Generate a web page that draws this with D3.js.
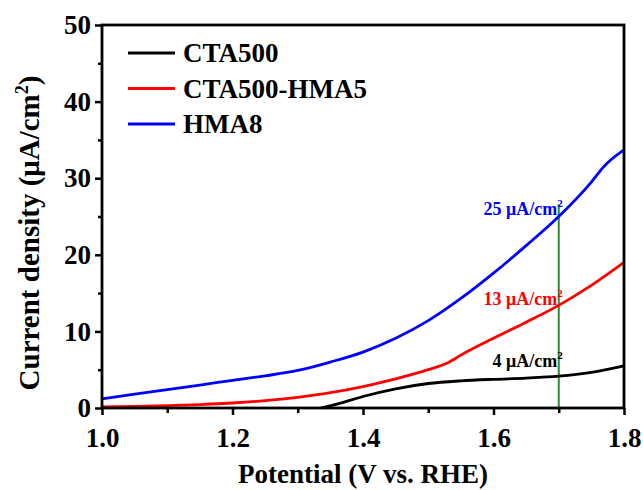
<!DOCTYPE html>
<html lang="en">
<head>
    <meta charset="UTF-8">
    <title>LSV current density</title>
    <script src="https://d3js.org/d3.v7.min.js"></script>
    <style>
        body { margin: 0; background: #fff; }
        text { font-family: "Liberation Serif", "Times New Roman", serif; font-weight: bold; }
    </style>
</head>
<body>
<script>
    // potential values (V vs. RHE) and current density (uA/cm2)
    var vHMA8 = [1.00, 1.05, 1.10, 1.15, 1.20, 1.25, 1.30, 1.35, 1.40, 1.45, 1.50, 1.55, 1.60, 1.65, 1.70, 1.75, 1.77, 1.78, 1.80];
    var jHMA8 = [1.2, 1.8, 2.4, 3.0, 3.6, 4.2, 4.9, 6.0, 7.3, 9.1, 11.4, 14.3, 17.6, 21.2, 25.0, 29.5, 31.6, 32.4, 33.7];

    var vMix = [1.00, 1.05, 1.10, 1.15, 1.20, 1.25, 1.30, 1.35, 1.40, 1.45, 1.50, 1.53, 1.55, 1.60, 1.65, 1.70, 1.75, 1.80];
    var jMix = [0.15, 0.2, 0.3, 0.45, 0.65, 0.95, 1.4, 2.0, 2.8, 3.8, 5.0, 5.9, 6.9, 9.1, 11.2, 13.4, 16.0, 19.0];

    var vCTA = [1.335, 1.36, 1.40, 1.45, 1.50, 1.55, 1.60, 1.65, 1.70, 1.75, 1.80];
    var jCTA = [0, 0.5, 1.5, 2.5, 3.2, 3.55, 3.75, 3.9, 4.15, 4.65, 5.5];

    var seriesNames = ["CTA500", "CTA500-HMA5", "HMA8"];
    var seriesColors = ["#000000", "#ff0000", "#0000ff"];

    var markV = 1.70;
    var markLabels = ["25", "13", "4"];
    var markValues = [25, 13.4, 4.15];

    var xTicks = [1.0, 1.2, 1.4, 1.6, 1.8];
    var yTicks = [0, 10, 20, 30, 40, 50];

    var w = 643, h = 490;
    var padL = 102, padR = 624, padT = 25, padB = 408;

    var xScale = d3.scaleLinear().domain([1.0, 1.8]).range([padL, padR]);
    var yScale = d3.scaleLinear().domain([0, 50]).range([padB, padT]);

    var svg = d3.select("body").append("svg")
        .attr("width", w)
        .attr("height", h);

    var line = d3.line()
        .x(function(d) { return xScale(d[0]); })
        .y(function(d) { return yScale(d[1]); })
        .curve(d3.curveMonotoneX);

    var series = [
        d3.zip(vCTA, jCTA),
        d3.zip(vMix, jMix),
        d3.zip(vHMA8, jHMA8)
    ];

    // green marker line at 1.7 V
    svg.append("line")
        .attr("x1", xScale(markV)).attr("x2", xScale(markV))
        .attr("y1", yScale(26.6)).attr("y2", yScale(0))
        .attr("stroke", "#2e8b2e")
        .attr("stroke-width", 2);

    svg.selectAll("path.curve")
        .data(series)
        .enter()
        .append("path")
        .attr("class", "curve")
        .attr("d", line)
        .attr("fill", "none")
        .attr("stroke", function(d, i) { return seriesColors[i]; })
        .attr("stroke-width", 2.8);

    // axes
    var xAxis = d3.axisBottom(xScale).tickValues(xTicks).tickSize(7).tickPadding(6)
        .tickFormat(d3.format(".1f"));
    var yAxis = d3.axisLeft(yScale).tickValues(yTicks).tickSize(7).tickPadding(4)
        .tickFormat(d3.format("d"));

    var gx = svg.append("g").attr("transform", "translate(0," + padB + ")").call(xAxis);
    var gy = svg.append("g").attr("transform", "translate(" + padL + ",0)").call(yAxis);

    // minor ticks
    var gxm = svg.append("g").attr("transform", "translate(0," + padB + ")")
        .call(d3.axisBottom(xScale).tickValues([1.1, 1.3, 1.5, 1.7]).tickSize(5).tickFormat(""));
    var gym = svg.append("g").attr("transform", "translate(" + padL + ",0)")
        .call(d3.axisLeft(yScale).tickValues([5, 15, 25, 35, 45]).tickSize(4).tickFormat(""));

    [gx, gy, gxm, gym].forEach(function(g) {
        g.select(".domain").remove();
        g.selectAll("line").attr("stroke", "#000").attr("stroke-width", 2.5);
        g.selectAll("text").attr("fill", "#000").attr("font-size", "27px")
            .attr("font-family", "Liberation Serif, serif").attr("font-weight", "bold");
    });
    gx.selectAll("text").attr("dy", "0.95em");

    // frame
    svg.append("rect")
        .attr("x", padL).attr("y", padT)
        .attr("width", padR - padL).attr("height", padB - padT)
        .attr("fill", "none").attr("stroke", "#000").attr("stroke-width", 2.8);

    // value labels near the marker line
    var ml = svg.selectAll("text.mark")
        .data(markLabels)
        .enter()
        .append("text")
        .attr("class", "mark")
        .attr("x", xScale(markV) + 4)
        .attr("y", function(d, i) { return yScale(markValues[i]) + (i === 0 ? -2 : (i === 1 ? 0 : -9)); })
        .attr("text-anchor", "end")
        .attr("font-size", "18px")
        .attr("fill", function(d, i) { return seriesColors[2 - i]; });
    ml.append("tspan").text(function(d) { return d + " \u03bcA/cm"; });
    ml.append("tspan").attr("font-size", "11px").attr("dy", "-8").text("2");

    // legend
    var leg = svg.selectAll("g.leg")
        .data(seriesNames)
        .enter()
        .append("g")
        .attr("class", "leg")
        .attr("transform", function(d, i) { return "translate(128," + (53 + i * 35.5) + ")"; });
    leg.append("line")
        .attr("x1", 0).attr("x2", 47)
        .attr("stroke", function(d, i) { return seriesColors[i]; })
        .attr("stroke-width", 2.8);
    leg.append("text")
        .attr("x", 55).attr("y", 9)
        .attr("font-size", "27px")
        .text(function(d) { return d; });

    // axis titles
    svg.append("text")
        .attr("x", (padL + padR) / 2).attr("y", 483)
        .attr("text-anchor", "middle")
        .attr("font-size", "27px")
        .text("Potential (V vs. RHE)");

    var yt = svg.append("text")
        .attr("transform", "translate(39," + 233 + ") rotate(-90)")
        .attr("text-anchor", "middle")
        .attr("font-size", "29px");
    yt.append("tspan").text("Current density (\u03bcA/cm");
    yt.append("tspan").attr("font-size", "18px").attr("dy", "-11").text("2");
    yt.append("tspan").attr("dy", "11").text(")");
</script>
</body>
</html>
